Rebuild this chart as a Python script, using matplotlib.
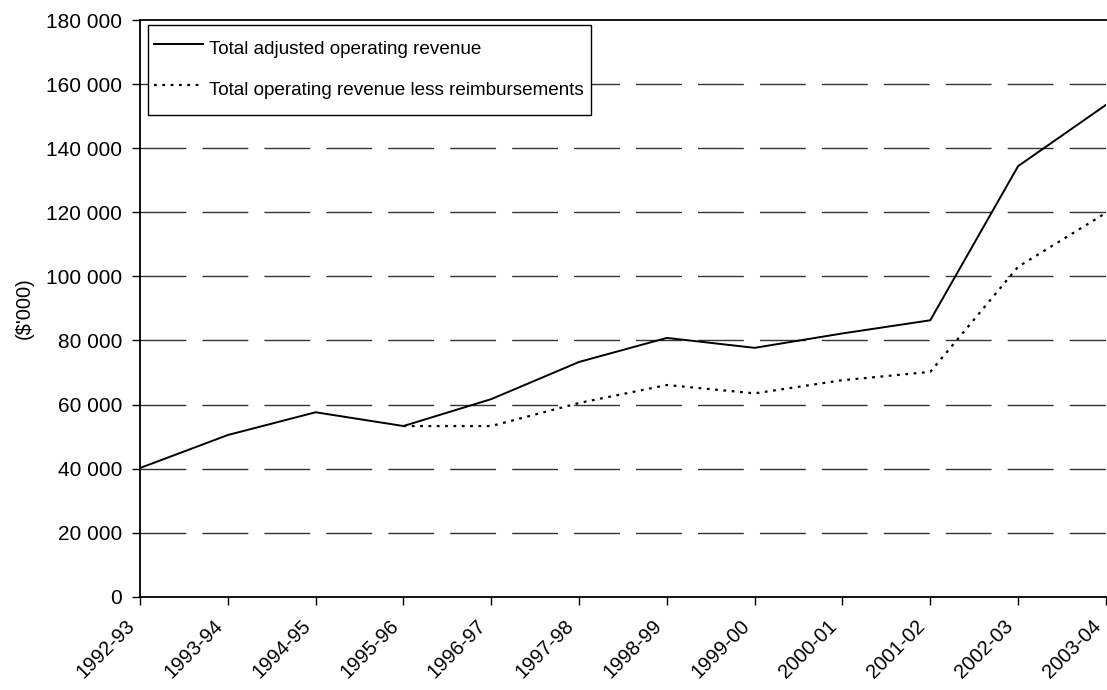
import matplotlib
matplotlib.use("Agg")
import matplotlib.pyplot as plt
from matplotlib.ticker import FuncFormatter
from matplotlib.transforms import ScaledTranslation

plt.rcParams['font.family'] = ['Liberation Sans', 'DejaVu Sans']
plt.rcParams['lines.scale_dashes'] = False

years = ['1992-93', '1993-94', '1994-95', '1995-96', '1996-97', '1997-98',
         '1998-99', '1999-00', '2000-01', '2001-02', '2002-03', '2003-04']

# $'000
adjusted_revenue = [40200, 50500, 57600, 53300, 61700, 73300,
                    80800, 77700, 82200, 86300, 134400, 153500]

# only reported from 1995-96 onwards
less_reimb_years = years[3:]
less_reimb = [53300, 53300, 60500, 66100, 63500, 67600, 70200, 103000, 119800]

fig = plt.figure(figsize=(11.07, 6.9), dpi=100)
ax = fig.add_axes([0.1265, 0.135, 0.8725, 0.836])

x = list(range(len(years)))
x2 = [years.index(y) for y in less_reimb_years]

ax.plot(x, adjusted_revenue, color='black', lw=1.4,
        label='Total adjusted operating revenue', zorder=3)
ax.plot(x2, less_reimb, color='black', lw=1.6, linestyle=(0, (2.0, 4.0)),
        label='Total operating revenue less reimbursements', zorder=3)

ax.set_xlim(0, len(years) - 1)
ax.set_ylim(0, 180000)
ax.set_yticks(range(0, 180001, 20000))
ax.yaxis.set_major_formatter(FuncFormatter(lambda v, p: f"{int(v):,}".replace(',', ' ')))
ax.set_xticks(x)
ax.set_xticklabels(years, rotation=45, ha='right', va='center',
                   rotation_mode='anchor', fontsize=14.5)

for gy in range(20000, 180000, 20000):
    ax.axhline(gy, color='#333333', lw=1.0, linestyle=(0, (33, 11.6)), zorder=1)

ax.spines['right'].set_visible(False)
for s in ['left', 'bottom', 'top']:
    ax.spines[s].set_linewidth(1.3)

ax.tick_params(axis='both', direction='out', length=6, width=1)
ax.tick_params(axis='y', labelsize=15, pad=7)
ax.tick_params(axis='x', pad=13)
ax.set_ylabel("($'000)", fontsize=14.5, labelpad=9)

# nudge the slanted year labels left so the last one stays inside
# (done after tick_params, which resets the label transforms)
shift = ScaledTranslation(-8 / 100, 0, fig.dpi_scale_trans)
for lbl in ax.get_xticklabels():
    lbl.set_transform(lbl.get_transform() + shift)

leg = ax.legend(loc='upper left', bbox_to_anchor=(0.008, 0.991), fontsize=13.6,
                frameon=True, fancybox=False, edgecolor='black', framealpha=1,
                handlelength=2.6, handleheight=2.5, handletextpad=0.3,
                labelspacing=0.3, borderpad=0.35, borderaxespad=0)
leg.get_frame().set_linewidth(1.0)
# centre the text on the sample lines
for col in leg._legend_handle_box.get_children():
    for row in col.get_children():
        row.align = 'center'

fig.savefig('out.png', dpi=100)
